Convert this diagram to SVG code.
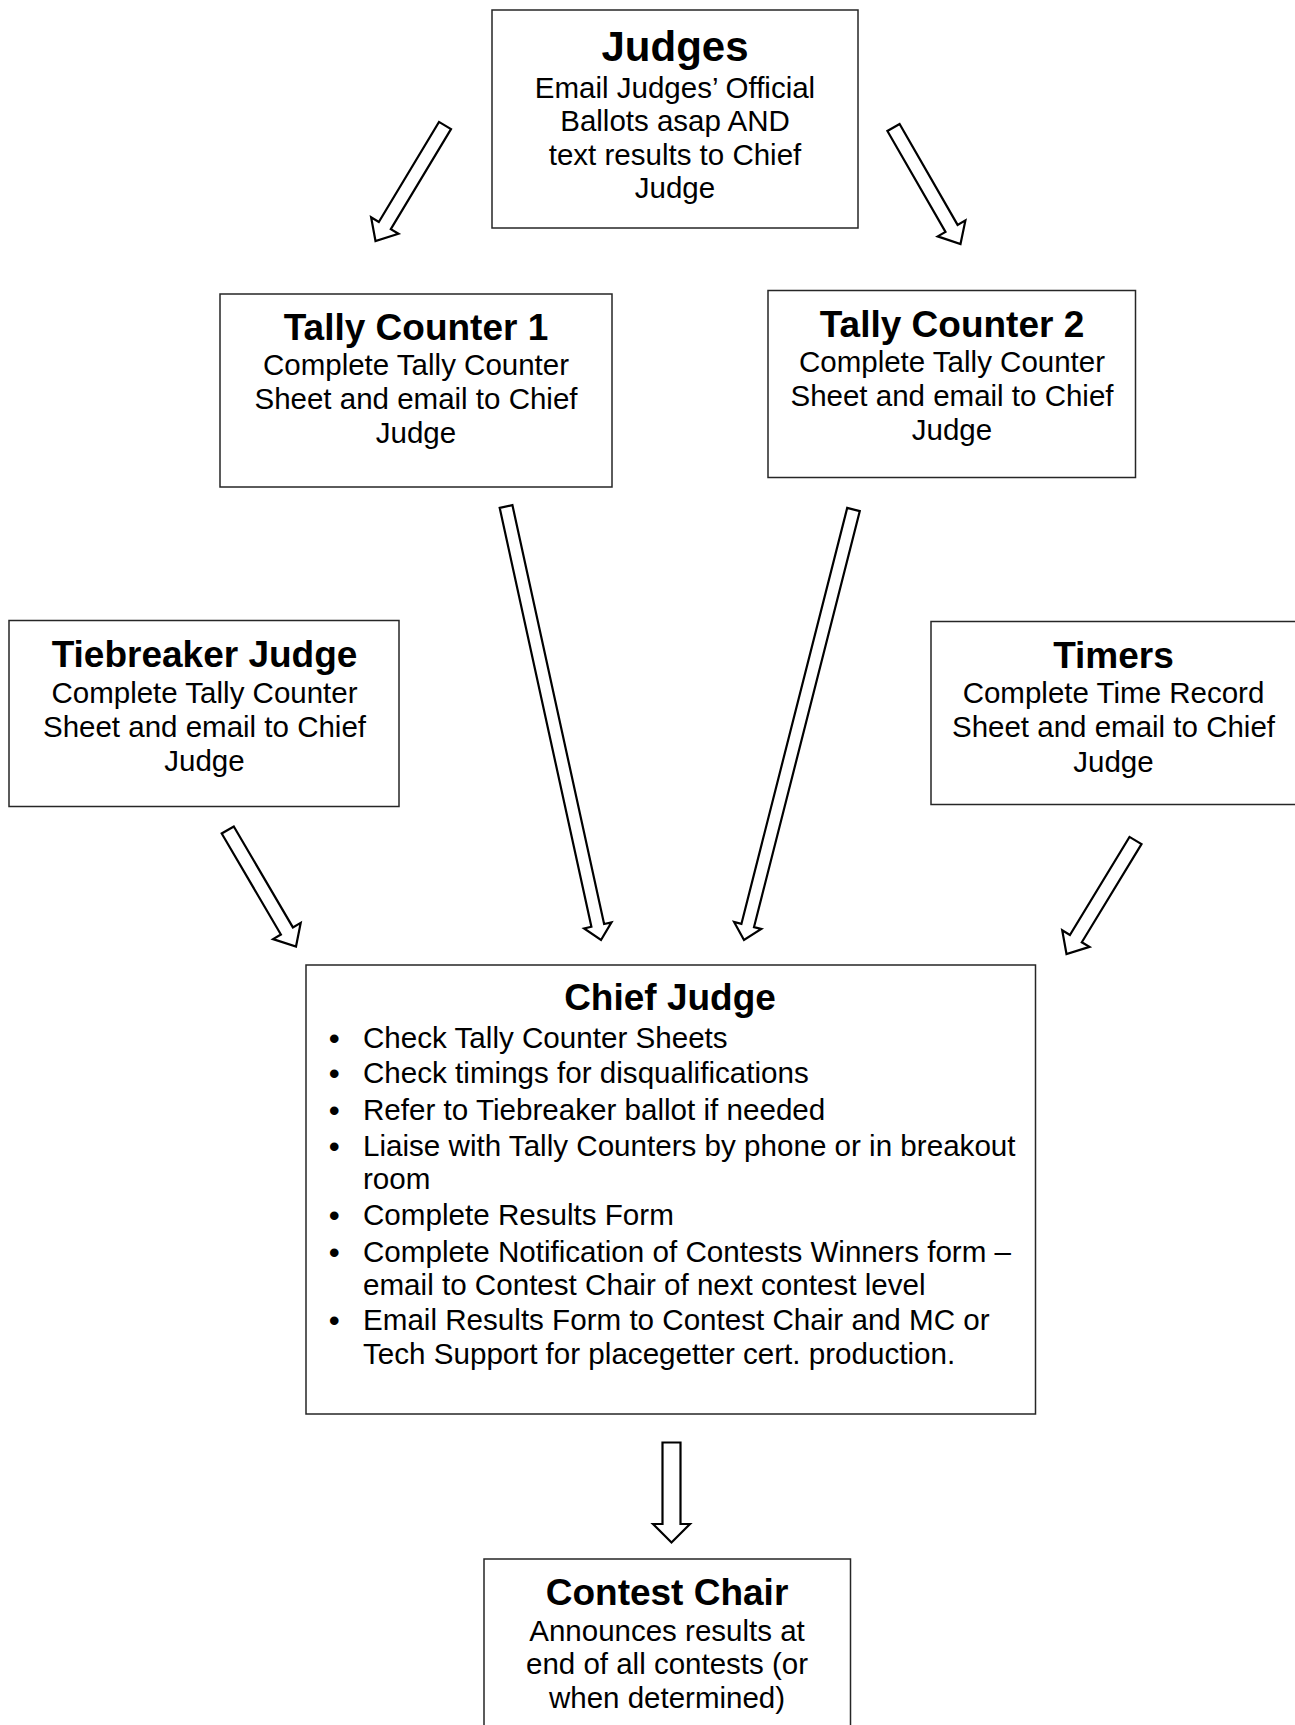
<svg xmlns="http://www.w3.org/2000/svg" width="1295" height="1725" viewBox="0 0 1295 1725">
<style>
.box{fill:#fff;stroke:#262626;stroke-width:1.5}
.t{font-family:"Liberation Sans",Arial,sans-serif;font-size:37px;font-weight:bold;fill:#000;text-anchor:middle}
.b{font-family:"Liberation Sans",Arial,sans-serif;font-size:29.5px;fill:#000;text-anchor:middle}
.l{font-family:"Liberation Sans",Arial,sans-serif;font-size:29.6px;fill:#000}
.bu{font-size:30px;font-weight:bold}
.arr{fill:#fff;stroke:#000;stroke-width:2.2;stroke-linejoin:miter}
</style>
<rect width="1295" height="1725" fill="#fff"/>
<g id="connectors">
<polygon class="arr" points="451.0,129.1 390.8,229.2 398.5,233.8 375.5,241 371.1,217.3 378.8,222.0 439.0,121.9"/>
<polygon class="arr" points="899.6,124.0 957.6,224.9 965.4,220.4 960.5,244 937.7,236.4 945.5,231.9 887.4,131.0"/>
<polygon class="arr" points="512.4,505.1 604.1,924.0 611.5,922.4 601,940 584.1,928.4 591.4,926.7 499.7,507.9"/>
<polygon class="arr" points="859.8,511.1 754.0,927.1 761.3,928.9 744,940 734.1,922.0 741.4,923.9 847.2,507.9"/>
<polygon class="arr" points="233.8,826.5 292.9,927.4 300.7,922.9 296,946.5 273.1,939.1 280.9,934.5 221.7,833.5"/>
<polygon class="arr" points="1141.5,844.1 1081.8,942.3 1089.5,946.9 1066.5,954 1062.2,930.3 1069.9,935.0 1129.5,836.9"/>
<polygon class="arr" points="662.5,1442.5 680.5,1442.5 680.5,1524 690,1524 671.5,1542.5 653,1524 662.5,1524"/>
</g>
<g id="judges">
<rect class="box" x="492" y="10" width="366" height="218"/>
<text class="t" x="675" y="61" style="font-size:42px">Judges</text>
<text class="b" x="675" y="97.5">Email Judges’ Official</text>
<text class="b" x="675" y="131">Ballots asap AND</text>
<text class="b" x="675" y="164.5">text results to Chief</text>
<text class="b" x="675" y="198">Judge</text>
</g>
<g id="tally1">
<rect class="box" x="220" y="294" width="392" height="193"/>
<text class="t" x="416" y="340">Tally Counter 1</text>
<text class="b" x="416" y="375">Complete Tally Counter</text>
<text class="b" x="416" y="409">Sheet and email to Chief</text>
<text class="b" x="416" y="443">Judge</text>
</g>
<g id="tally2">
<rect class="box" x="768" y="290.5" width="367.5" height="187"/>
<text class="t" x="952" y="337">Tally Counter 2</text>
<text class="b" x="952" y="371.5">Complete Tally Counter</text>
<text class="b" x="952" y="405.5">Sheet and email to Chief</text>
<text class="b" x="952" y="439.5">Judge</text>
</g>
<g id="tiebreaker">
<rect class="box" x="9" y="620.5" width="390" height="186"/>
<text class="t" x="204.5" y="667">Tiebreaker Judge</text>
<text class="b" x="204.5" y="702.5">Complete Tally Counter</text>
<text class="b" x="204.5" y="736.5">Sheet and email to Chief</text>
<text class="b" x="204.5" y="771">Judge</text>
</g>
<g id="timers">
<rect class="box" x="931" y="621.5" width="380" height="183"/>
<text class="t" x="1113.5" y="668">Timers</text>
<text class="b" x="1113.5" y="702.5">Complete Time Record</text>
<text class="b" x="1113.5" y="736.5">Sheet and email to Chief</text>
<text class="b" x="1113.5" y="771.5">Judge</text>
</g>
<g id="chief-judge">
<rect class="box" x="306" y="965" width="729.5" height="449"/>
<text class="t" x="670" y="1010">Chief Judge</text>
<g class="l">
<text class="bu" x="329" y="1049">•</text><text x="363" y="1048">Check Tally Counter Sheets</text>
<text class="bu" x="329" y="1084">•</text><text x="363" y="1083">Check timings for disqualifications</text>
<text class="bu" x="329" y="1120.5">•</text><text x="363" y="1119.5">Refer to Tiebreaker ballot if needed</text>
<text class="bu" x="329" y="1157">•</text><text x="363" y="1156">Liaise with Tally Counters by phone or in breakout</text>
<text x="363" y="1189">room</text>
<text class="bu" x="329" y="1226">•</text><text x="363" y="1225">Complete Results Form</text>
<text class="bu" x="329" y="1262.5">•</text><text x="363" y="1261.5">Complete Notification of Contests Winners form –</text>
<text x="363" y="1294.5">email to Contest Chair of next contest level</text>
<text class="bu" x="329" y="1331">•</text><text x="363" y="1330">Email Results Form to Contest Chair and MC or</text>
<text x="363" y="1364">Tech Support for placegetter cert. production.</text>
</g>
</g>
<g id="contest-chair">
<rect class="box" x="484" y="1559" width="366.5" height="180"/>
<text class="t" x="667" y="1605">Contest Chair</text>
<text class="b" x="667" y="1641">Announces results at</text>
<text class="b" x="667" y="1674">end of all contests (or</text>
<text class="b" x="667" y="1708">when determined)</text>
</g>
</svg>
